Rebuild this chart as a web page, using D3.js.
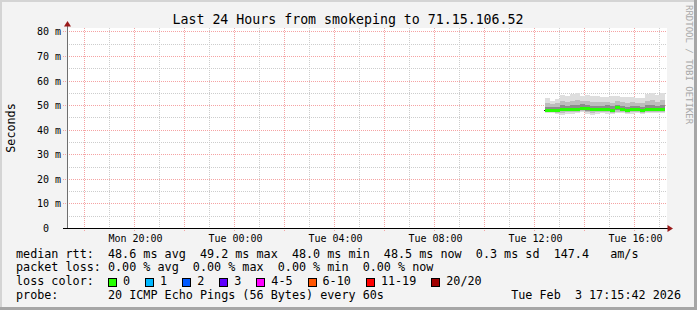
<!DOCTYPE html>
<html>
<head>
<meta charset="utf-8">
<script src="https://cdn.jsdelivr.net/npm/d3@7"></script>
<style>
  body { margin: 0; background: #fff; }
  text { font-family: "DejaVu Sans Mono", monospace; fill: #000; }
</style>
</head>
<body>
<div id="container"></div>
<script>
let w = 697;
let h = 310;

// time slots (Tue Feb 3), one column each, 12 minutes wide
let slotTimes = ["12:25","12:37","12:49","13:01","13:13","13:25","13:37","13:49",
                 "14:01","14:13","14:25","14:37","14:49","15:01","15:13","15:25",
                 "15:37","15:49","16:01","16:13","16:25","16:37","16:49","17:01"];

// median rtt per slot (ms)
let median  = [48.0,48.0,48.0,48.5,48.4,48.5,48.6,49.0,48.7,48.3,48.4,48.4,
               48.6,48.0,49.2,48.6,48.1,48.4,48.4,48.0,48.4,48.6,48.4,48.5];
// smoke: spread of the pings (ms)
let pingMax = [53.3,52.0,52.7,54.5,54.1,54.8,55.0,54.1,54.5,54.1,54.1,53.7,
               53.4,54.1,54.1,53.7,53.4,53.7,53.1,53.1,54.8,55.0,54.5,55.0];
let pingHi2 = [51.2,50.8,51.0,51.8,51.6,52.0,52.2,51.9,51.7,51.5,51.4,51.6,
               51.3,51.2,51.8,51.5,51.0,51.4,51.2,51.0,51.9,52.1,51.6,52.2];
let pingHi1 = [49.6,49.4,49.5,50.1,50.0,50.3,50.4,50.6,50.2,49.8,49.9,50.0,
               50.1,49.7,50.4,50.0,49.6,49.9,49.8,49.6,50.1,50.3,50.0,50.4];
let pingLo1 = [47.7,47.7,47.6,47.8,47.8,47.9,48.0,48.3,48.0,47.7,47.8,47.8,
               47.9,47.6,48.4,48.0,47.6,47.8,47.8,47.6,47.8,48.0,47.8,47.9];
let pingLo2 = [47.4,47.4,47.2,47.1,47.3,47.3,47.5,47.8,47.4,47.1,47.3,47.4,
               47.3,47.2,47.6,47.5,47.2,47.3,47.4,47.2,47.4,47.6,47.5,47.6];
let pingMin = [47.1,47.1,46.7,46.0,46.7,46.7,46.9,47.3,46.7,46.0,46.7,46.9,
               46.7,46.7,46.9,46.9,46.7,46.7,46.9,46.7,46.9,47.2,47.2,47.2];

let yTicks = [0,10,20,30,40,50,60,70,80];

let lossLabels = ["0","1","2","3","4-5","6-10","11-19","20/20"];
let lossColors = ["#26ff00","#00b8ff","#0059ff","#5e00ff","#ff00ff","#ff5500","#ff0000","#a00000"];

let title = "Last 24 Hours from smokeping to 71.15.106.52";
let legendLines = [
  "median rtt:  48.6 ms avg  49.2 ms max  48.0 ms min  48.5 ms now  0.3 ms sd  147.4   am/s",
  "packet loss: 0.00 % avg  0.00 % max  0.00 % min  0.00 % now",
  "loss color:",
  "probe:       20 ICMP Echo Pings (56 Bytes) every 60s"
];
let stampText = "Tue Feb  3 17:15:42 2026";

let viz = d3.select("#container")
  .append("svg")
    .attr("width", w)
    .attr("height", h)
;

// background + 3d frame
viz.append("rect").attr("width", w).attr("height", h).attr("fill", "#f3f3f3");
viz.append("path").attr("d", "M1,309V1H696").attr("fill","none").attr("stroke","#d4d4d4").attr("stroke-width",2);
viz.append("path").attr("d", "M0,308.5H695.5V0").attr("fill","none").attr("stroke","#a6a6a6").attr("stroke-width",3);

// plot area
let plotL = 67, plotR = 667, plotT = 28, plotB = 228;
viz.append("rect").attr("x", plotL).attr("y", plotT).attr("width", plotR-plotL).attr("height", plotB-plotT).attr("fill", "#fff");

let parseSlot = d3.timeParse("%Y-%m-%d %H:%M");
let xScale = d3.scaleTime()
  .domain([new Date(2026,1,2,17,18), new Date(2026,1,3,17,18)])
  .range([plotL, plotR]);
let yScale = d3.scaleLinear().domain([0,80]).range([228.5, 31.9]);

function px(v){ return Math.floor(v) + 0.5; }

// grid
let grid = viz.append("g");
let hours = d3.timeHour.every(1).range(xScale.domain()[0], xScale.domain()[1]);
grid.selectAll(".vgrid").data(hours).enter()
  .append("line")
    .attr("x1", d => px(xScale(d)))
    .attr("x2", d => px(xScale(d)))
    .attr("y1", plotT)
    .attr("y2", d => d.getHours() % 2 == 0 ? 232 : plotB)
    .attr("stroke", d => d.getHours() % 2 == 0 ? "#f5a3a3" : "#cdcdcd")
    .attr("stroke-dasharray", "1,1")
;
let fives = d3.range(5, 81, 5);
grid.selectAll(".hgrid").data(fives).enter()
  .append("line")
    .attr("x1", d => d % 10 == 0 ? 63 : plotL)
    .attr("x2", plotR)
    .attr("y1", d => px(yScale(d)))
    .attr("y2", d => px(yScale(d)))
    .attr("stroke", d => d % 10 == 0 ? "#f5a3a3" : "#cdcdcd")
    .attr("stroke-dasharray", "1,1")
;

// smoke
let slots = slotTimes.map(function(s, i){
  let t0 = parseSlot("2026-02-03 " + s);
  return {t0: t0, t1: d3.timeMinute.offset(t0, 12), i: i};
});
let bands = [
  {lo: pingMin, hi: pingMax, color: "#dedede"},
  {lo: pingLo2, hi: pingHi2, color: "#bdbdbd"},
  {lo: pingLo1, hi: pingHi1, color: "#8c8c8c"}
];
bands.forEach(function(b){
  viz.append("g").selectAll("rect").data(slots).enter()
    .append("rect")
      .attr("x", d => Math.round(xScale(d.t0)))
      .attr("width", d => Math.round(xScale(d.t1)) - Math.round(xScale(d.t0)))
      .attr("y", d => Math.round(yScale(b.hi[d.i])))
      .attr("height", d => Math.round(yScale(b.lo[d.i])) - Math.round(yScale(b.hi[d.i])))
      .attr("fill", b.color)
  ;
});

// median band coloured by loss (all 0 loss)
viz.append("line")
  .attr("x1", Math.round(xScale(slots[0].t0)) - 1).attr("x2", Math.round(xScale(slots[0].t0)) + 1)
  .attr("y1", px(yScale(median[0]))).attr("y2", px(yScale(median[0])))
  .attr("stroke", "#202020");
viz.append("g").selectAll("rect").data(slots).enter()
  .append("rect")
    .attr("x", d => Math.round(xScale(d.t0)))
    .attr("width", d => Math.round(xScale(d.t1)) - Math.round(xScale(d.t0)))
    .attr("y", d => Math.round(yScale(median[d.i]) - 1.5))
    .attr("height", 3)
    .attr("fill", lossColors[0])
;

// axes
viz.append("line").attr("x1", plotL+0.5).attr("x2", plotL+0.5).attr("y1", 228).attr("y2", 24)
  .attr("stroke", "#6e6e6e");
viz.append("path").attr("d", "M67.5,21L71,26.5H64Z").attr("fill", "#9a1a1a");
viz.append("line").attr("x1", 63).attr("x2", 669).attr("y1", 228.5).attr("y2", 228.5)
  .attr("stroke", "#000");
viz.append("path").attr("d", "M673,228.5L667.5,225V232Z").attr("fill", "#9a1a1a");

// y labels
let yLab = viz.append("g").attr("font-size", "10px");
yLab.selectAll("text").data(yTicks).enter()
  .append("text")
    .attr("x", d => d == 0 ? 49 : 61)
    .attr("y", d => px(yScale(d)) + 3.5)
    .attr("text-anchor", "end")
    .text(d => d == 0 ? "0" : d + " m")
;

// x labels
let xLab = viz.append("g").attr("font-size", "10px");
xLab.selectAll("text").data(xScale.ticks(d3.timeHour.every(4))).enter()
  .append("text")
    .attr("x", d => px(xScale(d)) + 1)
    .attr("y", 241.5)
    .attr("text-anchor", "middle")
    .text(d3.timeFormat("%a %H:%M"))
;

// titles
viz.append("text").attr("x", 348).attr("y", 24).attr("text-anchor", "middle")
  .attr("font-size", "13.25px").text(title);
viz.append("text").attr("transform", "translate(14.5,128) rotate(-90)").attr("text-anchor", "middle")
  .attr("font-size", "11.75px").text("Seconds");
viz.append("text").attr("transform", "translate(685.5,5) rotate(90)")
  .attr("font-size", "9px").style("fill", "#a8a8a8").text("RRDTOOL / TOBI OETIKER");

// legend
let legend = viz.append("g").attr("font-size", "11.75px");
legend.selectAll("text").data(legendLines).enter()
  .append("text")
    .attr("x", 16)
    .attr("y", (d,i) => 257.5 + i*13.7)
    .attr("xml:space", "preserve")
    .style("white-space", "pre")
    .text(d => d)
;
legend.append("text").attr("x", 681).attr("y", 257.5 + 3*13.7).attr("text-anchor", "end")
  .attr("xml:space", "preserve").style("white-space", "pre").text(stampText);

let charW = 7.08;
let sx = 108;
let swatches = lossLabels.map(function(l, i){
  let item = {label: l, color: lossColors[i], x: sx};
  sx = sx + 15 + l.length*charW + 15;
  return item;
});
let sw = legend.selectAll(".sw").data(swatches).enter().append("g");
sw.append("rect")
  .attr("x", d => Math.round(d.x) + 0.5)
  .attr("y", 278.5)
  .attr("width", 8).attr("height", 8)
  .attr("fill", d => d.color)
  .attr("stroke", "#000");
sw.append("text")
  .attr("x", d => d.x + 15)
  .attr("y", 257.5 + 2*13.7)
  .text(d => d.label);
</script>
</body>
</html>
